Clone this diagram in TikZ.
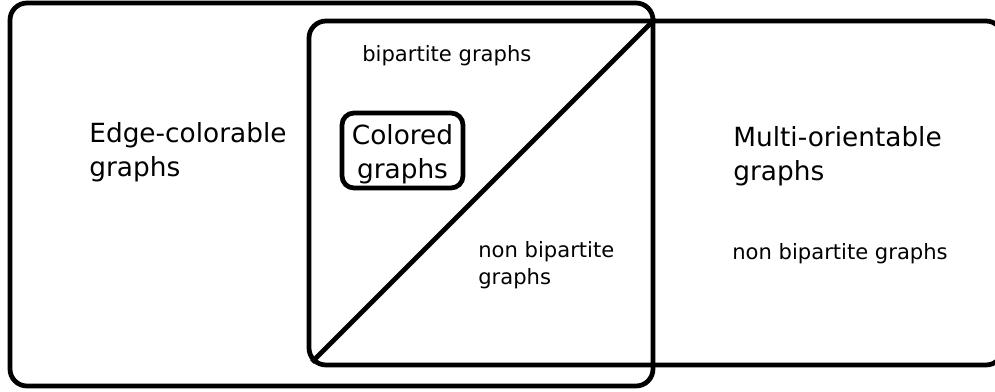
\documentclass[tikz,border=0pt]{standalone}
\usepackage{fontspec}
\setmainfont{DejaVu Sans}
\usetikzlibrary{positioning}

\begin{document}
\begin{tikzpicture}[
  x=0.2mm, y=-0.2mm,
  set/.style={draw, line width=0.95mm, rounded corners=3.4mm},
  bigtext/.style={inner sep=0pt, anchor=west, align=left, font=\fontsize{15}{19.6}\selectfont},
  smalltext/.style={inner sep=0pt, anchor=west, align=left, font=\fontsize{12}{15.4}\selectfont},
]
\useasboundingbox (0,0) rectangle (995,391);

% The two classes
\node[set, minimum width=12.86cm, minimum height=7.66cm] (edgeset) at (331.5,194.5) {};
\node[set, minimum width=13.88cm, minimum height=6.88cm] (multiset) at (656,193) {};

% Split of the overlap
\coordinate (topsplit) at (edgeset.east |- multiset.north);
\draw[line width=0.95mm, shorten <=1.5mm] (multiset.south west) -- (topsplit);

% Colored graphs
\node[set, rounded corners=2.4mm, minimum width=2.42cm, minimum height=1.5cm] (colored) at (402.5,150.5) {};
\node[bigtext, anchor=center, align=center, yshift=-0.7mm] (coloredlabel) at (colored.center) {Colored\\graphs};

% Labels
\node[bigtext] (edgelabel) at (89,152) {Edge-colorable\\graphs};
\node[bigtext] (multilabel) at (733,156) {Multi-orientable\\graphs};
\node[smalltext] (bip) at (362,56) {bipartite graphs};
\node[smalltext] (nonbipin) at (478,265) {non bipartite\\graphs};
\node[smalltext] (nonbipout) at (732,254) {non bipartite graphs};

\end{tikzpicture}
\end{document}
